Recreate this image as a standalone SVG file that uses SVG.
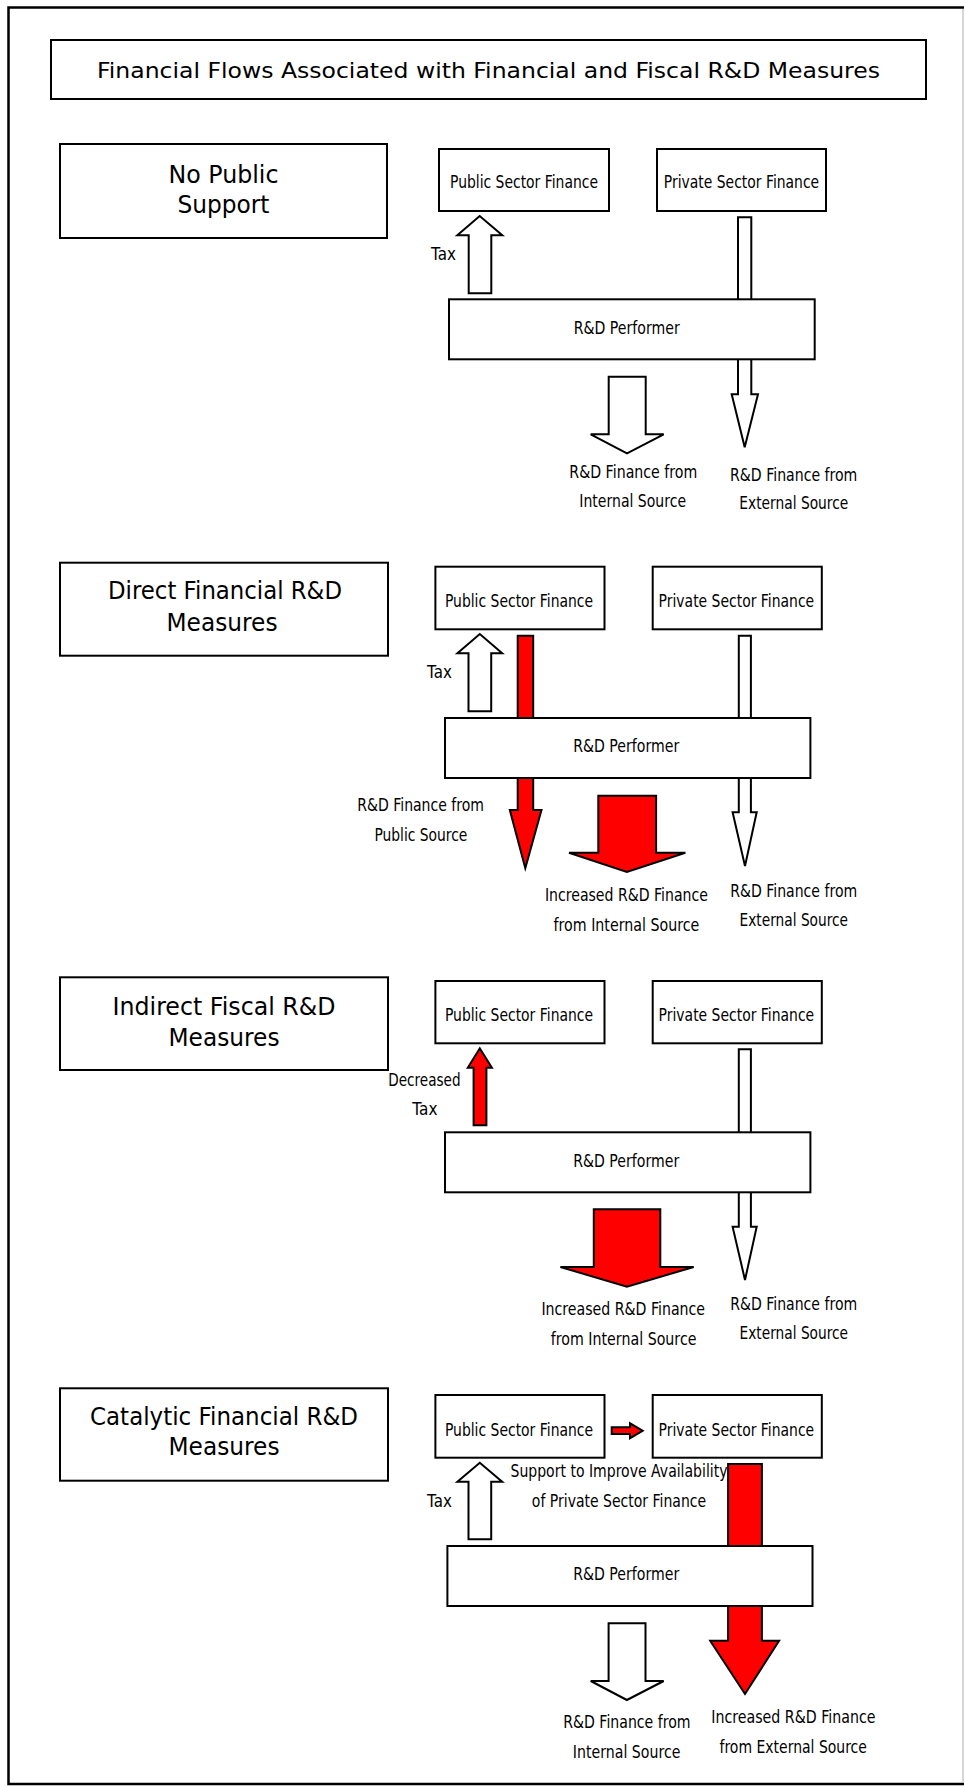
<svg xmlns="http://www.w3.org/2000/svg" width="964" height="1787" viewBox="0 0 964 1787">
  <style>
    .box { fill: #fff; stroke: #000; stroke-width: 2; }
    .arrow-w { fill: #fff; stroke: #000; stroke-width: 2; stroke-linejoin: miter; }
    .arrow-r { fill: #ff0000; stroke: #000; stroke-width: 2; stroke-linejoin: miter; }
    text { font-family: "DejaVu Sans", "Noto Sans", sans-serif; fill: #000; text-anchor: middle; }
    .title { font-size: 22px; }
    .head { font-size: 24.5px; }
    .node { font-size: 18px; }
    .lbl { font-size: 17px; }
  </style>

  <rect width="964" height="1787" fill="#fff"/>

  <!-- page frame -->
  <g id="frame" fill="none">
    <path d="M966,7.5 H8.5 V1784 H966" stroke="#000" stroke-width="2.5"/>
    <line x1="963" y1="9" x2="963" y2="1782" stroke="#c8c8c8" stroke-width="1.5"/>
  </g>

  <!-- heading -->
  <g id="title">
    <rect class="box" x="51" y="40" width="875" height="59"/>
    <text class="title" x="488.5" y="78" textLength="783" lengthAdjust="spacingAndGlyphs">Financial Flows Associated with Financial and Fiscal R&amp;D Measures</text>
  </g>

  <!-- flows (drawn under the boxes) -->
  <g id="connectors">
    <!-- 1: no public support -->
    <polygon class="arrow-w" points="468.7,293.3 468.7,235.3 457.3,235.3 479.7,216 502.3,235.3 491.3,235.3 491.3,293.3"/>
    <polygon class="arrow-w" points="738,217.3 751.3,217.3 751.3,394.3 758,394.3 744.7,447.3 731.7,394.3 738,394.3"/>
    <polygon class="arrow-w" points="608.7,376.7 645.7,376.7 645.7,434.3 663.7,434.3 627,453.3 590.7,434.3 608.7,434.3"/>

    <!-- 2: direct financial measures -->
    <polygon class="arrow-w" points="468.5,711.3 468.5,653.3 457.4,653.3 479.8,634 502.2,653.3 491.2,653.3 491.2,711.3"/>
    <polygon class="arrow-r" points="517.7,635.7 533.2,635.7 533.2,810 541.5,810 525.3,868.3 509.8,810 517.7,810"/>
    <polygon class="arrow-w" points="738.8,635.7 750.9,635.7 750.9,812.3 756.7,812.3 745,866 732.6,812.3 738.8,812.3"/>
    <polygon class="arrow-r" points="598.3,795.7 656.1,795.7 656.1,852.7 685.4,852.7 626.9,872 569,852.7 598.3,852.7"/>

    <!-- 3: indirect fiscal measures -->
    <polygon class="arrow-r" points="473.6,1125.3 473.6,1067.7 467.8,1067.7 479.8,1048.3 491.9,1067.7 486.4,1067.7 486.4,1125.3"/>
    <polygon class="arrow-w" points="738.8,1049.3 750.9,1049.3 750.9,1226.7 756.7,1226.7 745,1280 732.6,1226.7 738.8,1226.7"/>
    <polygon class="arrow-r" points="593.8,1209.3 660.3,1209.3 660.3,1267 693.7,1267 626.9,1286.7 560.4,1267 593.8,1267"/>

    <!-- 4: catalytic financial measures -->
    <polygon class="arrow-r" points="611.7,1427.3 630,1427.3 630,1423.3 642.7,1430.7 630,1438.3 630,1434 611.7,1434"/>
    <polygon class="arrow-w" points="468.5,1539.3 468.5,1481.7 457.4,1481.7 479.8,1462.7 502.2,1481.7 491.2,1481.7 491.2,1539.3"/>
    <polygon class="arrow-r" points="728.1,1464 761.9,1464 761.9,1640.7 779.1,1640.7 745,1694 710.2,1640.7 728.1,1640.7"/>
    <polygon class="arrow-w" points="608.6,1623.3 645.5,1623.3 645.5,1681 663.7,1681 626.9,1700 590.7,1681 608.6,1681"/>
  </g>

  <!-- flow labels -->
  <g id="connector-labels">
    <text class="lbl" x="443.5" y="260" textLength="25" lengthAdjust="spacingAndGlyphs">Tax</text>
    <text class="lbl" x="633.3" y="478.3" textLength="128" lengthAdjust="spacingAndGlyphs">R&amp;D Finance from</text>
    <text class="lbl" x="632.7" y="506.7" textLength="106.7" lengthAdjust="spacingAndGlyphs">Internal Source</text>
    <text class="lbl" x="793.7" y="480.7" textLength="127.3" lengthAdjust="spacingAndGlyphs">R&amp;D Finance from</text>
    <text class="lbl" x="793.8" y="509.3" textLength="109" lengthAdjust="spacingAndGlyphs">External Source</text>

    <text class="lbl" x="439.5" y="678" textLength="24.8" lengthAdjust="spacingAndGlyphs">Tax</text>
    <text class="lbl" x="420.6" y="811" textLength="126.7" lengthAdjust="spacingAndGlyphs">R&amp;D Finance from</text>
    <text class="lbl" x="420.9" y="841" textLength="93" lengthAdjust="spacingAndGlyphs">Public Source</text>
    <text class="lbl" x="626.4" y="900.7" textLength="162.9" lengthAdjust="spacingAndGlyphs">Increased R&amp;D Finance</text>
    <text class="lbl" x="626.4" y="930.7" textLength="145.7" lengthAdjust="spacingAndGlyphs">from Internal Source</text>
    <text class="lbl" x="793.7" y="896.7" textLength="127" lengthAdjust="spacingAndGlyphs">R&amp;D Finance from</text>
    <text class="lbl" x="793.8" y="925.7" textLength="108.5" lengthAdjust="spacingAndGlyphs">External Source</text>

    <text class="lbl" x="424.4" y="1086" textLength="72.3" lengthAdjust="spacingAndGlyphs">Decreased</text>
    <text class="lbl" x="424.9" y="1115" textLength="25.2" lengthAdjust="spacingAndGlyphs">Tax</text>
    <text class="lbl" x="623.2" y="1315" textLength="163.6" lengthAdjust="spacingAndGlyphs">Increased R&amp;D Finance</text>
    <text class="lbl" x="623.6" y="1345" textLength="145.7" lengthAdjust="spacingAndGlyphs">from Internal Source</text>
    <text class="lbl" x="793.7" y="1310" textLength="127" lengthAdjust="spacingAndGlyphs">R&amp;D Finance from</text>
    <text class="lbl" x="793.8" y="1339" textLength="108.5" lengthAdjust="spacingAndGlyphs">External Source</text>

    <text class="lbl" x="619" y="1476.7" textLength="217" lengthAdjust="spacingAndGlyphs">Support to Improve Availability</text>
    <text class="lbl" x="619" y="1507" textLength="174.3" lengthAdjust="spacingAndGlyphs">of Private Sector Finance</text>
    <text class="lbl" x="439.5" y="1507" textLength="24.8" lengthAdjust="spacingAndGlyphs">Tax</text>
    <text class="lbl" x="626.9" y="1728.3" textLength="127.4" lengthAdjust="spacingAndGlyphs">R&amp;D Finance from</text>
    <text class="lbl" x="626.6" y="1758.3" textLength="107.5" lengthAdjust="spacingAndGlyphs">Internal Source</text>
    <text class="lbl" x="793.4" y="1722.7" textLength="164.3" lengthAdjust="spacingAndGlyphs">Increased R&amp;D Finance</text>
    <text class="lbl" x="793.2" y="1752.7" textLength="147.4" lengthAdjust="spacingAndGlyphs">from External Source</text>
  </g>

  <!-- 1: no public support -->
  <g id="s1-heading">
    <rect class="box" x="60" y="144" width="327" height="94"/>
    <text class="head" x="223.5" y="183" textLength="110" lengthAdjust="spacingAndGlyphs">No Public</text>
    <text class="head" x="223.5" y="213" textLength="92" lengthAdjust="spacingAndGlyphs">Support</text>
  </g>
  <g id="s1-public">
    <rect class="box" x="439" y="149" width="170" height="62"/>
    <text class="node" x="524" y="188.3" textLength="148" lengthAdjust="spacingAndGlyphs">Public Sector Finance</text>
  </g>
  <g id="s1-private">
    <rect class="box" x="657" y="149" width="169" height="62"/>
    <text class="node" x="741.5" y="188.3" textLength="155.3" lengthAdjust="spacingAndGlyphs">Private Sector Finance</text>
  </g>
  <g id="s1-performer">
    <rect class="box" x="449" y="299.3" width="365.7" height="60"/>
    <text class="node" x="626.7" y="334" textLength="106" lengthAdjust="spacingAndGlyphs">R&amp;D Performer</text>
  </g>

  <!-- 2: direct financial measures -->
  <g id="s2-heading">
    <rect class="box" x="60" y="562.7" width="328" height="93"/>
    <text class="head" x="225" y="599.3" textLength="234" lengthAdjust="spacingAndGlyphs">Direct Financial R&amp;D</text>
    <text class="head" x="222" y="630.7" textLength="111" lengthAdjust="spacingAndGlyphs">Measures</text>
  </g>
  <g id="s2-public">
    <rect class="box" x="435.4" y="566.7" width="169.1" height="62.6"/>
    <text class="node" x="519" y="606.7" textLength="148.1" lengthAdjust="spacingAndGlyphs">Public Sector Finance</text>
  </g>
  <g id="s2-private">
    <rect class="box" x="652.7" y="566.7" width="169.1" height="62.6"/>
    <text class="node" x="736.4" y="606.7" textLength="155.6" lengthAdjust="spacingAndGlyphs">Private Sector Finance</text>
  </g>
  <g id="s2-performer">
    <rect class="box" x="445" y="718" width="365.4" height="60"/>
    <text class="node" x="626.2" y="752.3" textLength="106" lengthAdjust="spacingAndGlyphs">R&amp;D Performer</text>
  </g>

  <!-- 3: indirect fiscal measures -->
  <g id="s3-heading">
    <rect class="box" x="60" y="977.3" width="328" height="92.7"/>
    <text class="head" x="224" y="1015" textLength="223" lengthAdjust="spacingAndGlyphs">Indirect Fiscal R&amp;D</text>
    <text class="head" x="224" y="1046" textLength="111" lengthAdjust="spacingAndGlyphs">Measures</text>
  </g>
  <g id="s3-public">
    <rect class="box" x="435.4" y="981" width="169.1" height="62.3"/>
    <text class="node" x="519" y="1020.7" textLength="148.1" lengthAdjust="spacingAndGlyphs">Public Sector Finance</text>
  </g>
  <g id="s3-private">
    <rect class="box" x="652.7" y="981" width="169.1" height="62.3"/>
    <text class="node" x="736.4" y="1020.7" textLength="155.6" lengthAdjust="spacingAndGlyphs">Private Sector Finance</text>
  </g>
  <g id="s3-performer">
    <rect class="box" x="445" y="1132.3" width="365.4" height="60"/>
    <text class="node" x="626.2" y="1166.7" textLength="106" lengthAdjust="spacingAndGlyphs">R&amp;D Performer</text>
  </g>

  <!-- 4: catalytic financial measures -->
  <g id="s4-heading">
    <rect class="box" x="60" y="1388.3" width="328" height="92.4"/>
    <text class="head" x="224" y="1425" textLength="268" lengthAdjust="spacingAndGlyphs">Catalytic Financial R&amp;D</text>
    <text class="head" x="224" y="1455" textLength="111" lengthAdjust="spacingAndGlyphs">Measures</text>
  </g>
  <g id="s4-public">
    <rect class="box" x="435.4" y="1395" width="169.1" height="62.7"/>
    <text class="node" x="519" y="1435.7" textLength="148.1" lengthAdjust="spacingAndGlyphs">Public Sector Finance</text>
  </g>
  <g id="s4-private">
    <rect class="box" x="652.7" y="1395" width="169.1" height="62.7"/>
    <text class="node" x="736.4" y="1435.7" textLength="155.6" lengthAdjust="spacingAndGlyphs">Private Sector Finance</text>
  </g>
  <g id="s4-performer">
    <rect class="box" x="447.4" y="1546" width="365.1" height="60"/>
    <text class="node" x="626.2" y="1580" textLength="106" lengthAdjust="spacingAndGlyphs">R&amp;D Performer</text>
  </g>
</svg>
